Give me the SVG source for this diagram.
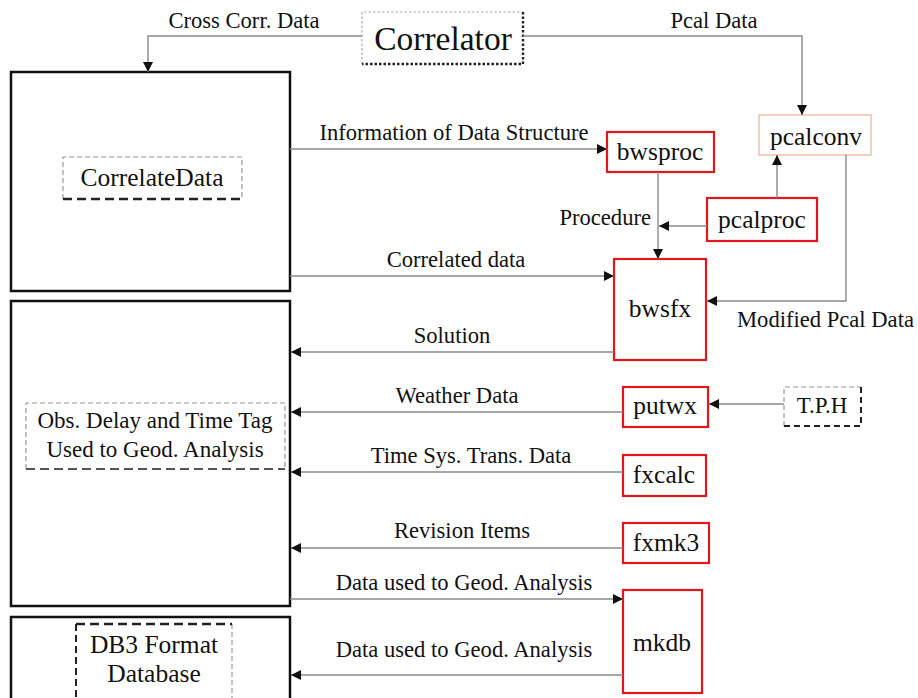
<svg xmlns="http://www.w3.org/2000/svg" width="918" height="698" viewBox="0 0 918 698">
<style>
.nl{font-size:25.5px;text-anchor:middle}
.el{font-size:22.6px;text-anchor:middle}
.big{fill:#fff;stroke:#111;stroke-width:2.5}
.red{fill:#fff;stroke:#e3161d;stroke-width:2.2}
.c{fill:none;stroke:#8a8a8a;stroke-width:1.4}
.dl{fill:none;stroke:#999;stroke-width:1.2;stroke-dasharray:5 3}
.dd{fill:none;stroke:#222;stroke-width:2.6;stroke-dasharray:9 5}
.dt{fill:none;stroke:#222;stroke-width:2.4;stroke-dasharray:2.5 2}
.dtl{fill:none;stroke:#aaa;stroke-width:1.2;stroke-dasharray:2.5 2}
</style>
<defs>
<marker id="ah" viewBox="0 0 10 10" refX="10" refY="5" markerWidth="10" markerHeight="10" markerUnits="userSpaceOnUse" orient="auto">
<path d="M0,0 L10,5 L0,10 Z" fill="#111"/>
</marker>
</defs>
<rect width="918" height="698" fill="#fff"/>
<g font-family="Liberation Serif, Times New Roman, DejaVu Serif, serif" fill="#111">

<g id="correlator">
<rect x="362" y="12" width="161" height="52" fill="#fff" stroke="none"/>
<path class="dtl" d="M362,64 V12 H523"/>
<path class="dt" d="M523,12 V64 H362"/>
<text x="443" y="50" font-size="33.5" text-anchor="middle">Correlator</text>
</g>

<g id="correlatedata-store">
<rect class="big" x="11" y="72" width="279" height="219"/>
<g id="correlatedata">
<path class="dl" d="M63,199 V157 H242 V199"/>
<path class="dd" d="M63,199 H242"/>
<text class="nl" x="152" y="186">CorrelateData</text>
</g>
</g>

<g id="obs-store">
<rect class="big" x="11" y="301" width="279" height="305"/>
<g id="obsdelay">
<path class="dl" d="M26,469 V403 H285 V469"/>
<path class="dd" d="M26,469 H285" style="stroke:#555;stroke-width:2"/>
<text x="155" y="428" font-size="23" text-anchor="middle">Obs. Delay and Time Tag</text>
<text x="155" y="457" font-size="23" text-anchor="middle">Used to Geod. Analysis</text>
</g>
</g>

<g id="db3-store">
<rect class="big" x="11" y="617" width="279" height="95"/>
<g id="db3">
<path class="dl" d="M232,624 V700"/>
<path class="dd" d="M76,624 H232"/>
<path class="dd" d="M76,624 V700" style="stroke-width:2;stroke-dasharray:7 4"/>
<text class="nl" x="154" y="653">DB3 Format</text>
<text class="nl" x="154" y="682">Database</text>
</g>
</g>

<g id="bwsproc">
<rect class="red" x="607" y="132" width="107" height="40"/>
<text class="nl" x="660" y="160">bwsproc</text>
</g>
<g id="pcalconv">
<rect x="759" y="115" width="112" height="40" fill="#fff" stroke="#f5bfa8" stroke-width="1.5"/>
<text class="nl" x="816" y="145">pcalconv</text>
</g>
<g id="pcalproc">
<rect class="red" x="707" y="198" width="110" height="43"/>
<text class="nl" x="762" y="228">pcalproc</text>
</g>
<g id="bwsfx">
<rect class="red" x="614" y="259" width="92" height="101"/>
<text class="nl" x="660" y="317">bwsfx</text>
</g>
<g id="putwx">
<rect class="red" x="623" y="387" width="85" height="40"/>
<text class="nl" x="665" y="414">putwx</text>
</g>
<g id="tph">
<path class="dl" d="M784,426 V387 H861"/>
<path class="dd" d="M861,387 V426 H784" style="stroke-width:2;stroke-dasharray:6 4"/>
<text x="822" y="413" font-size="23" text-anchor="middle">T.P.H</text>
</g>
<g id="fxcalc">
<rect class="red" x="623" y="455" width="83" height="41"/>
<text class="nl" x="664" y="483">fxcalc</text>
</g>
<g id="fxmk3">
<rect class="red" x="623" y="523" width="86" height="40"/>
<text class="nl" x="666" y="551">fxmk3</text>
</g>
<g id="mkdb">
<rect class="red" x="623" y="590" width="79" height="103"/>
<text class="nl" x="662" y="651">mkdb</text>
</g>

<g id="connectors">
<path class="c" d="M362,36 H148 V72" marker-end="url(#ah)"/>
<path class="c" d="M523,36 H802 V115" marker-end="url(#ah)"/>
<path class="c" d="M290,149 H607" marker-end="url(#ah)"/>
<path class="c" d="M658,172 V259" marker-end="url(#ah)"/>
<path class="c" d="M707,226 H659" marker-end="url(#ah)"/>
<path class="c" d="M777,198 V155" marker-end="url(#ah)"/>
<path class="c" d="M846,155 V301 H707" marker-end="url(#ah)"/>
<path class="c" d="M290,276 H614" marker-end="url(#ah)"/>
<path class="c" d="M614,352 H291" marker-end="url(#ah)"/>
<path class="c" d="M623,412 H291" marker-end="url(#ah)"/>
<path class="c" d="M784,404 H709" marker-end="url(#ah)"/>
<path class="c" d="M623,472 H291" marker-end="url(#ah)"/>
<path class="c" d="M623,548 H291" marker-end="url(#ah)"/>
<path class="c" d="M290,599 H623" marker-end="url(#ah)"/>
<path class="c" d="M623,675 H291" marker-end="url(#ah)"/>

<text class="el" x="244" y="28">Cross Corr. Data</text>
<text class="el" x="714" y="28">Pcal Data</text>
<text class="el" x="454" y="140">Information of Data Structure</text>
<text class="el" x="651" y="225" style="text-anchor:end">Procedure</text>
<text class="el" x="456" y="267">Correlated data</text>
<text class="el" x="737" y="327" style="text-anchor:start">Modified Pcal Data</text>
<text class="el" x="452" y="343">Solution</text>
<text class="el" x="457" y="403">Weather Data</text>
<text class="el" x="471" y="463">Time Sys. Trans. Data</text>
<text class="el" x="462" y="538">Revision Items</text>
<text class="el" x="464" y="590">Data used to Geod. Analysis</text>
<text class="el" x="464" y="657">Data used to Geod. Analysis</text>
</g>
</g>
</svg>
